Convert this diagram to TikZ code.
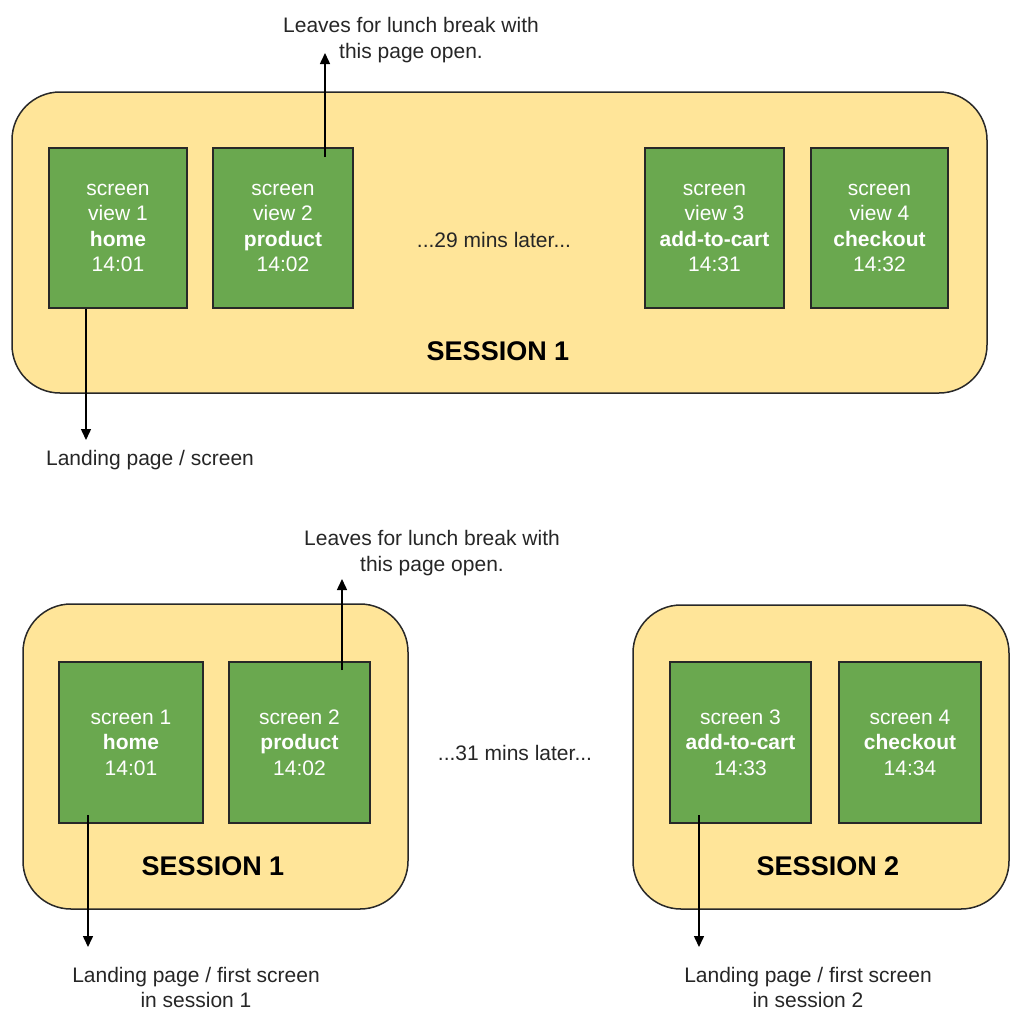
\documentclass[tikz,border=0pt]{standalone}
\usepackage{fontspec}
\setmainfont{Liberation Sans}
\usetikzlibrary{arrows.meta}
\definecolor{sessfill}{RGB}{255,229,153}
\definecolor{screenfill}{RGB}{106,168,79}
\definecolor{edgegray}{RGB}{40,40,40}
\begin{document}
\begin{tikzpicture}[x=1pt,y=-1pt,
  sessionbox/.style={draw=edgegray,line width=1.5pt,fill=sessfill,rounded corners=48pt},
  screenbox/.style={draw=edgegray,line width=1.5pt,fill=screenfill,text=white,
    align=center,inner sep=0pt,font=\fontsize{21}{25.5}\selectfont},
  note/.style={align=center,inner sep=0pt,text=black!85,font=\fontsize{21}{26}\selectfont},
  sesslabel/.style={inner sep=0pt,font=\fontsize{27}{30}\selectfont\bfseries},
  arr/.style={draw=black,line width=1.5pt,-{Triangle[length=11pt,width=10pt]}}]
\useasboundingbox (0,0) rectangle (1011,1013);

% ---------- upper panel: one session ----------
\draw[sessionbox] (12,92) rectangle (987,393);
\node[screenbox,minimum width=138pt,minimum height=160pt] (u1) at (118,228)
  {screen\\view 1\\\textbf{home}\\14:01};
\node[screenbox,minimum width=140pt,minimum height=160pt] (u2) at (283,228)
  {screen\\view 2\\\textbf{product}\\14:02};
\node[screenbox,minimum width=139pt,minimum height=160pt] (u3) at (714.5,228)
  {screen\\view 3\\\textbf{add-to-cart}\\14:31};
\node[screenbox,minimum width=137pt,minimum height=160pt] (u4) at (879.5,228)
  {screen\\view 4\\\textbf{checkout}\\14:32};
\node[note] (ugap) at (494,240) {...29 mins later...};
\node[sesslabel] (us1) at (498,351) {SESSION 1};

\node[note] (uleave) at (411,40) {Leaves for lunch break with\\this page open.};
\node[note] (uland) at (150,460) {Landing page / screen};

\coordinate (uleaveS) at (325,157);
\coordinate (uleaveE) at (325,53);
\draw[arr] (uleaveS) -- (uleaveE);
\coordinate (ulandE) at (86,440);
\draw[arr] (u1.south -| ulandE) -- (ulandE);

% ---------- lower panel: two sessions ----------
\draw[sessionbox] (23,604) rectangle (408,909);
\draw[sessionbox] (633,605) rectangle (1009,909);

\node[screenbox,minimum width=144pt,minimum height=161pt] (l1) at (131,742.5)
  {screen 1\\\textbf{home}\\14:01};
\node[screenbox,minimum width=141pt,minimum height=161pt] (l2) at (299.5,742.5)
  {screen 2\\\textbf{product}\\14:02};
\node[screenbox,minimum width=141pt,minimum height=161pt] (l3) at (740.5,742.5)
  {screen 3\\\textbf{add-to-cart}\\14:33};
\node[screenbox,minimum width=142pt,minimum height=161pt] (l4) at (910,742.5)
  {screen 4\\\textbf{checkout}\\14:34};
\node[note] (lgap) at (515,753) {...31 mins later...};
\node[sesslabel] (ls1) at (213,866) {SESSION 1};
\node[sesslabel] (ls2) at (828,866) {SESSION 2};

\node[note] (lleave) at (432,553) {Leaves for lunch break with\\this page open.};
\node[note,font=\fontsize{21}{25}\selectfont] (lland1) at (196,987) {Landing page / first screen\\in session 1};
\node[note,font=\fontsize{21}{25}\selectfont] (lland2) at (808,987) {Landing page / first screen\\in session 2};

\coordinate (lleaveS) at (342,670);
\coordinate (lleaveE) at (342,579);
\draw[arr] (lleaveS) -- (lleaveE);
\coordinate (lland1S) at (88,815);
\coordinate (lland1E) at (88,947);
\draw[arr] (lland1S) -- (lland1E);
\coordinate (lland2S) at (699,815);
\coordinate (lland2E) at (699,947);
\draw[arr] (lland2S) -- (lland2E);
\end{tikzpicture}
\end{document}
